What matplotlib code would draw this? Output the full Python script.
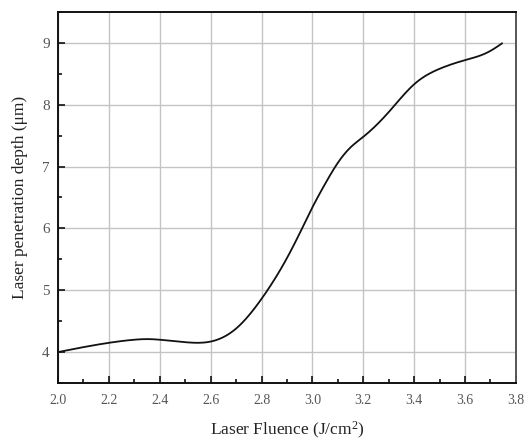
import numpy as np
import matplotlib
matplotlib.use("Agg")
import matplotlib.pyplot as plt
from matplotlib.ticker import MultipleLocator

plt.rcParams['font.family'] = ['Liberation Serif', 'DejaVu Serif']
plt.rcParams['mathtext.default'] = 'regular'

# Data
fluence = [2.00, 2.10, 2.20, 2.30, 2.35, 2.40, 2.50, 2.55, 2.60, 2.70, 2.80,
           2.90, 2.95, 3.00, 3.05, 3.10, 3.15, 3.20, 3.30, 3.40, 3.50, 3.60,
           3.65, 3.70, 3.745]
depth = [4.00, 4.08, 4.15, 4.20, 4.21, 4.20, 4.16, 4.15, 4.17, 4.38, 4.86,
         5.52, 5.92, 6.34, 6.72, 7.06, 7.31, 7.48, 7.88, 8.33, 8.58, 8.72,
         8.78, 8.87, 8.99]

xticks = [2.0, 2.2, 2.4, 2.6, 2.8, 3.0, 3.2, 3.4, 3.6, 3.8]
xticklabels = ['2.0', '2.2', '2.4', '2.6', '2.8', '3.0', '3.2', '3.4', '3.6', '3.8']
yticks = [4, 5, 6, 7, 8, 9]
yticklabels = ['4', '5', '6', '7', '8', '9']


def natural_spline(x, y, xs):
    x = np.asarray(x, float); y = np.asarray(y, float)
    n = len(x)
    h = np.diff(x)
    A = np.zeros((n, n)); b = np.zeros(n)
    A[0, 0] = 1; A[-1, -1] = 1
    for i in range(1, n - 1):
        A[i, i - 1] = h[i - 1]
        A[i, i] = 2 * (h[i - 1] + h[i])
        A[i, i + 1] = h[i]
        b[i] = 3 * ((y[i + 1] - y[i]) / h[i] - (y[i] - y[i - 1]) / h[i - 1])
    c = np.linalg.solve(A, b)
    bb = (y[1:] - y[:-1]) / h - h * (2 * c[:-1] + c[1:]) / 3
    d = (c[1:] - c[:-1]) / (3 * h)
    idx = np.clip(np.searchsorted(x, xs) - 1, 0, n - 2)
    dx = xs - x[idx]
    return y[idx] + bb[idx] * dx + c[idx] * dx ** 2 + d[idx] * dx ** 3


fig = plt.figure(figsize=(5.27, 4.40), dpi=100)
ax = fig.add_axes([0.110, 0.1295, 0.869, 0.8435])

xs = np.linspace(fluence[0], fluence[-1], 400)
ax.plot(xs, natural_spline(fluence, depth, xs), color='#111111', lw=1.3)

ax.set_xlim(2.0, 3.8)
ax.set_ylim(3.5, 9.5)
ax.set_xticks(xticks)
ax.set_xticklabels(xticklabels)
ax.set_yticks(yticks)
ax.set_yticklabels(yticklabels)
ax.xaxis.set_minor_locator(MultipleLocator(0.1))
ax.yaxis.set_minor_locator(MultipleLocator(0.5))

ax.grid(True, which='major', color='#c4c4c4', lw=1.0)
ax.set_axisbelow(True)

ax.tick_params(which='both', direction='in', colors='#111111', labelcolor='#555555',
               labelsize=10, width=1.2)
ax.tick_params(which='major', length=5)
ax.tick_params(which='minor', length=3)
ax.tick_params(axis='x', pad=8)
ax.tick_params(axis='y', pad=6, labelsize=11)

for s in ax.spines.values():
    s.set_linewidth(1.4)
    s.set_color('#111111')
ax.spines['right'].set_color('#555555')

ax.set_xlabel('Laser Fluence (J/cm$^{2}$)', fontsize=12.5, color='#222222', labelpad=9)
ax.set_ylabel('Laser penetration depth (\u03bcm)', fontsize=12.5, color='#222222', labelpad=10)

fig.savefig('out.png', dpi=100)
